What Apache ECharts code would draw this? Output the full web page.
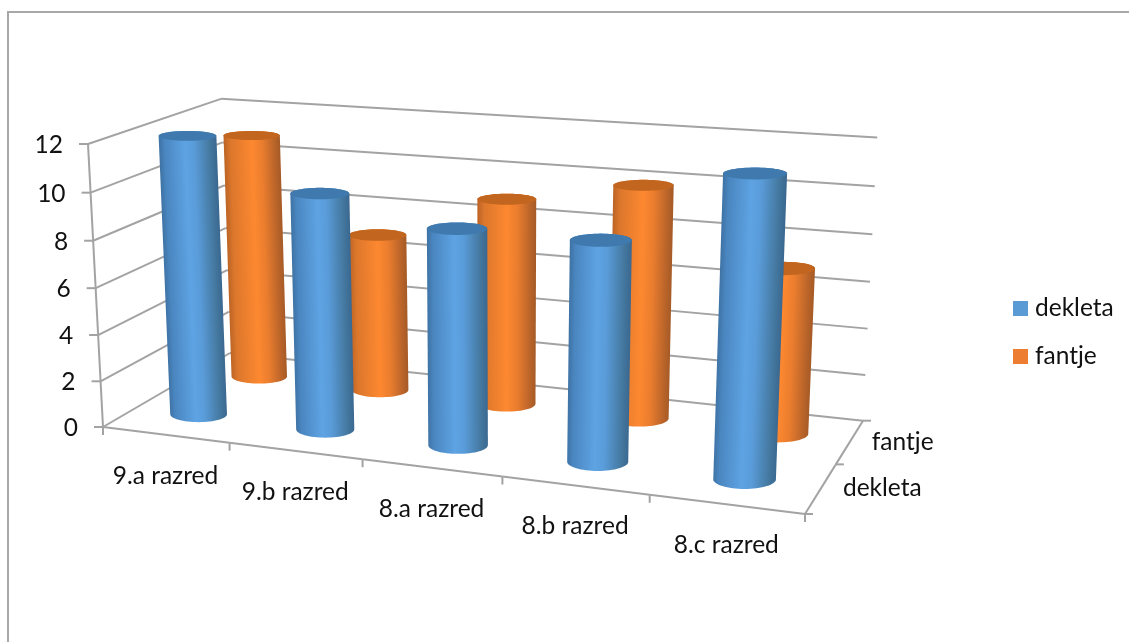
<!DOCTYPE html>
<html>
<head>
<meta charset="utf-8">
<style>html,body{margin:0;padding:0;background:#fff}#c{width:1129px;height:642px}</style>
<script src="https://cdn.jsdelivr.net/npm/echarts@6/dist/echarts.min.js"></script>
</head>
<body>
<div id="c"></div>
<script>
const categories = ['9.a razred', '9.b razred', '8.a razred', '8.b razred', '8.c razred'];
const depthNames = ['dekleta', 'fantje'];
const dekleta = [12, 10, 9, 9, 12];
const fantje = [11, 7, 9, 10, 7];
const valueTicks = [0, 2, 4, 6, 8, 10, 12];

const FONT = 'Lato, "Noto Sans", sans-serif';
const LINE = '#a3a3a3';
const TEXT = '#111111';

// Perspective box: screen anchors of the origin and of the three unit edges,
// with the homogeneous weight that each axis contributes.
const origin = [103, 427], xEnd = [805, 514], yEnd = [88, 144], zEnd = [230, 353];
const wx = -0.12, wy = -0.037, wz = 0.12;
const basis = (end, w) => [end[0] * (1 + w) - origin[0], end[1] * (1 + w) - origin[1]];
const ex = basis(xEnd, wx), ey = basis(yEnd, wy), ez = basis(zEnd, wz);

function project(x, y, z) {
  const d = 1 + x * wx + y * wy + z * wz;
  return [
    (origin[0] + x * ex[0] + y * ey[0] + z * ez[0]) / d,
    (origin[1] + x * ex[1] + y * ey[1] + z * ez[1]) / d
  ];
}

// Turn a data pair into unit box coordinates through the cartesian axes.
function toUnit(api, params, cat, val) {
  const r = params.coordSys;
  const p = api.coord([cat, val]);
  return [(p[0] - r.x) / r.width, (r.y + r.height - p[1]) / r.height];
}

function seg(a, b) {
  return {
    type: 'line',
    shape: { x1: a[0], y1: a[1], x2: b[0], y2: b[1] },
    style: { stroke: LINE, lineWidth: 2 }
  };
}

function label(text, x, y, align) {
  return {
    type: 'text',
    style: { text, x, y, align, verticalAlign: 'middle', fill: TEXT, fontFamily: FONT, fontSize: 24.5 }
  };
}

function hull(pts) {
  const s = pts.slice().sort((a, b) => a[0] - b[0] || a[1] - b[1]);
  const cross = (o, a, b) => (a[0] - o[0]) * (b[1] - o[1]) - (a[1] - o[1]) * (b[0] - o[0]);
  const lo = [], up = [];
  for (const p of s) {
    while (lo.length > 1 && cross(lo[lo.length - 2], lo[lo.length - 1], p) <= 0) lo.pop();
    lo.push(p);
  }
  for (const p of s.slice().reverse()) {
    while (up.length > 1 && cross(up[up.length - 2], up[up.length - 1], p) <= 0) up.pop();
    up.push(p);
  }
  return lo.slice(0, -1).concat(up.slice(0, -1));
}

const RX = 0.045, RZ = 0.1, WIDTH_GAIN = 5.38;

// A level ellipse at height y, sized by how far the box axes stretch at that spot.
// Width grows with the square root of the stretch so columns widen only gently.
function ring(xc, y, zc) {
  const c = project(xc, y, zc);
  const stretch = Math.abs(project(xc + RX, y, zc)[0] - project(xc - RX, y, zc)[0]) / 2;
  const hw = WIDTH_GAIN * Math.sqrt(stretch);
  const hh = Math.abs(project(xc, y, zc + RZ)[1] - project(xc, y, zc - RZ)[1]) / 2;
  const out = [];
  for (let k = 0; k < 64; k++) {
    const t = k / 64 * Math.PI * 2;
    out.push([c[0] + hw * Math.cos(t), c[1] + hh * Math.sin(t)]);
  }
  return out;
}

function cylinderRenderer(row, stops, capColor) {
  const zc = (row + 0.5) / depthNames.length;
  return function (params, api) {
    const cat = api.value(0), val = api.value(1);
    const [xc, yTop] = toUnit(api, params, cat, val);
    const top = ring(xc, yTop, zc), base = ring(xc, 0, zc);
    const a = project(xc, 0, zc), b = project(xc, yTop, zc);
    const len = Math.hypot(b[0] - a[0], b[1] - a[1]);
    const n = [-(b[1] - a[1]) / len, (b[0] - a[0]) / len];
    const sign = n[0] < 0 ? -1 : 1;
    const nx = n[0] * sign, ny = n[1] * sign;
    let hw = 0;
    for (const p of top.concat(base)) hw = Math.max(hw, Math.abs((p[0] - a[0]) * nx + (p[1] - a[1]) * ny));
    const mx = (a[0] + b[0]) / 2, my = (a[1] + b[1]) / 2;
    const fill = new echarts.graphic.LinearGradient(
      mx - nx * hw, my - ny * hw, mx + nx * hw, my + ny * hw, stops, true);
    return {
      type: 'group',
      children: [
        { type: 'polygon', shape: { points: hull(top.concat(base)) }, style: { fill } },
        { type: 'polygon', shape: { points: top }, style: { fill: capColor } }
      ]
    };
  };
}

const blueStops = [
  { offset: 0, color: '#3e72a3' }, { offset: 0.1, color: '#4a86c0' },
  { offset: 0.45, color: '#5ea3e3' }, { offset: 0.6, color: '#5a9cda' },
  { offset: 0.88, color: '#44789f' }, { offset: 1, color: '#3a678f' }
];
const orangeStops = [
  { offset: 0, color: '#bb6426' }, { offset: 0.12, color: '#dc772c' },
  { offset: 0.5, color: '#fd8830' }, { offset: 0.68, color: '#ea7d2e' },
  { offset: 0.9, color: '#b9642a' }, { offset: 1, color: '#a55a26' }
];

// Walls: one gridline per value tick, running along the side wall and the back wall.
function renderGrid(params, api) {
  const v = api.value(1);
  const y = toUnit(api, params, 0, v)[1];
  const f = project(0, y, 0), s = project(0, y, 1), e = project(1, y, 1);
  const children = [
    seg(f, s), seg(s, e), seg([f[0] - 9, f[1]], f),
    label(String(v), f[0] - 25, f[1] + 1, 'right')
  ];
  if (v === valueTicks[valueTicks.length - 1]) children.push(seg(project(0, 0, 0), f));
  return { type: 'group', children };
}

// Floor front edge with one tick and one label per category.
function renderFloorX(params, api) {
  const i = api.value(0);
  const xc = toUnit(api, params, i, 0)[0];
  const step = 1 / categories.length;
  const a = project(xc - step / 2, 0, 0), b = project(xc + step / 2, 0, 0);
  const c = project(xc, 0, 0);
  const children = [
    seg(a, b), seg(b, [b[0], b[1] + 8]),
    label(categories[i], c[0], c[1] + 41, 'center')
  ];
  if (i === 0) children.push(seg(a, [a[0], a[1] + 8]));
  return { type: 'group', children };
}

// Floor side edge with one tick and one label per row.
function renderFloorZ(params, api) {
  const i = api.value(0);
  const step = 1 / depthNames.length;
  const a = project(1, 0, i * step), b = project(1, 0, (i + 1) * step);
  const c = project(1, 0, (i + 0.5) * step);
  const children = [
    seg(a, b), seg(b, [b[0] + 8, b[1]]),
    label(depthNames[i], c[0] + 22, c[1], 'left')
  ];
  if (i === 0) children.push(seg(a, [a[0] + 8, a[1]]));
  return { type: 'group', children };
}

const chart = echarts.init(document.getElementById('c'), null, { renderer: 'canvas' });
chart.setOption({
  animation: false,
  backgroundColor: '#ffffff',
  grid: { left: 0, top: 0, width: 1000, height: 600 },
  xAxis: { type: 'category', data: categories, show: false },
  yAxis: { type: 'value', min: 0, max: 12, interval: 2, show: false },
  legend: {
    orient: 'vertical', left: 1013, top: 296, padding: 0, itemWidth: 15, itemHeight: 15, itemGap: 23,
    icon: 'rect',
    textStyle: { fontFamily: FONT, fontSize: 24.5, color: TEXT, padding: [0, 0, 0, 2] },
    data: depthNames
  },
  graphic: [{
    type: 'polyline',
    shape: { points: [[8, 642], [8, 12], [1129, 12]] },
    style: { stroke: '#a8a8a8', lineWidth: 2, fill: 'none' },
    silent: true
  }],
  series: [
    { type: 'custom', name: 'grid', z: 1, clip: false, silent: true, coordinateSystem: 'cartesian2d',
      encode: { x: 0, y: 1 }, renderItem: renderGrid, data: valueTicks.map(v => [0, v]) },
    { type: 'custom', name: 'floorX', z: 1, clip: false, silent: true, coordinateSystem: 'cartesian2d',
      encode: { x: 0, y: 1 }, renderItem: renderFloorX, data: categories.map((c, i) => [i, 0]) },
    { type: 'custom', name: 'floorZ', z: 1, clip: false, silent: true, coordinateSystem: 'cartesian2d',
      encode: { x: 0, y: 1 }, renderItem: renderFloorZ, data: depthNames.map((c, i) => [i, 0]) },
    { type: 'custom', name: 'dekleta', z: 3, clip: false, coordinateSystem: 'cartesian2d',
      itemStyle: { color: '#5b9bd5' }, encode: { x: 0, y: 1 },
      renderItem: cylinderRenderer(0, blueStops, '#3f79ad'), data: dekleta.map((v, i) => [i, v]) },
    { type: 'custom', name: 'fantje', z: 2, clip: false, coordinateSystem: 'cartesian2d',
      itemStyle: { color: '#ed7d31' }, encode: { x: 0, y: 1 },
      renderItem: cylinderRenderer(1, orangeStops, '#c1651f'), data: fantje.map((v, i) => [i, v]) }
  ]
});
</script>
</body>
</html>
